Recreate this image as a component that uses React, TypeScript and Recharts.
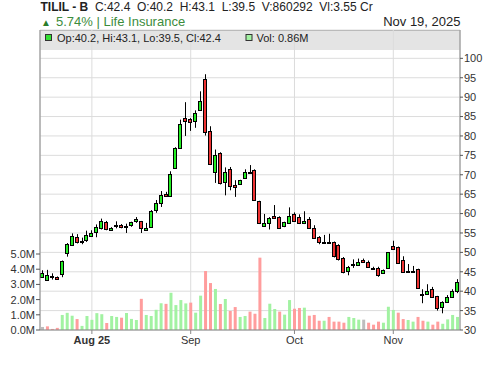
import { ComposedChart, Bar, Cell, XAxis, YAxis, CartesianGrid } from "recharts";

const FONT = "'Liberation Sans', Arial, sans-serif";

// daily OHLC, 85 sessions ending Nov 19, 2025
const opens = [
  43.8, 43.0, 43.7, 43.7, 44.4, 49.7, 51.9, 54.0, 52.9, 53.2,
  54.2, 55.3, 56.2, 57.7, 55.8, 56.9, 57.0, 56.9, 56.8, 58.0,
  58.0, 55.9, 56.4, 60.9, 62.6, 65.0, 64.5, 71.9, 77.0, 84.7,
  84.4, 84.0, 86.8, 94.8, 81.4, 70.7, 75.5, 68.0, 71.4, 67.3,
  67.5, 69.0, 70.7, 71.2, 63.2, 56.9, 57.7, 59.4, 59.2, 56.7,
  57.7, 60.0, 59.0, 57.5, 58.7, 56.4, 54.0, 52.6, 52.7, 52.6,
  51.9, 48.6, 45.3, 46.7, 46.8, 48.0, 47.5, 46.1, 46.1, 44.7,
  45.9, 51.6, 51.3, 48.0, 45.0, 45.1, 45.6, 39.3, 39.4, 40.5,
  38.7, 35.8, 37.2, 38.6, 40.2,
];
const highs = [
  45.4, 45.5, 44.6, 43.8, 47.9, 52.4, 54.9, 54.7, 53.8, 55.6,
  55.7, 57.2, 58.7, 58.1, 56.5, 58.0, 57.3, 57.4, 57.9, 59.1,
  58.1, 57.6, 60.9, 63.5, 65.8, 65.6, 70.9, 77.1, 84.2, 88.7,
  84.6, 86.6, 91.5, 95.9, 82.5, 76.5, 75.8, 71.9, 72.0, 68.6,
  68.7, 71.4, 72.5, 71.4, 63.3, 59.9, 59.1, 62.2, 59.3, 57.9,
  61.6, 60.3, 59.8, 60.6, 59.1, 57.0, 54.2, 54.5, 54.8, 52.8,
  52.1, 48.8, 46.5, 48.2, 48.4, 48.4, 47.9, 46.3, 46.3, 45.6,
  50.1, 53.0, 51.5, 49.0, 47.0, 46.5, 45.8, 40.5, 41.8, 41.1,
  38.8, 37.4, 39.0, 40.5, 43.1,
];
const lows = [
  43.4, 42.9, 43.0, 43.2, 43.6, 48.9, 51.7, 52.3, 52.1, 52.7,
  54.0, 53.9, 55.9, 55.7, 55.6, 56.2, 56.2, 55.0, 56.6, 57.6,
  55.0, 55.8, 56.3, 60.2, 61.7, 64.3, 64.4, 71.8, 76.9, 80.0,
  81.3, 82.1, 86.7, 80.1, 72.5, 67.9, 67.5, 64.7, 66.0, 64.3,
  67.4, 68.9, 70.3, 63.4, 57.3, 56.6, 55.9, 58.8, 56.2, 56.5,
  57.5, 58.1, 57.3, 57.3, 56.2, 53.7, 52.1, 52.4, 52.4, 48.7,
  47.9, 44.6, 44.1, 46.0, 46.5, 47.3, 46.0, 45.8, 43.7, 44.5,
  45.8, 50.8, 47.2, 44.9, 44.9, 45.0, 40.6, 36.9, 39.3, 38.3,
  35.0, 34.3, 37.0, 38.4, 39.5,
];
const closes = [
  44.8, 44.2, 43.8, 43.3, 47.8, 52.1, 54.2, 52.8, 53.0, 54.6,
  55.1, 56.6, 58.0, 55.9, 56.3, 57.0, 56.4, 56.6, 57.7, 58.5,
  56.2, 56.4, 60.6, 62.6, 64.7, 64.5, 70.1, 77.0, 83.2, 84.0,
  83.5, 86.0, 89.1, 81.1, 72.9, 75.2, 67.7, 70.7, 67.1, 66.7,
  68.6, 70.6, 70.5, 63.5, 57.5, 57.6, 58.9, 59.0, 56.4, 57.7,
  59.5, 58.3, 57.5, 58.1, 56.4, 53.9, 52.6, 52.7, 52.6, 48.9,
  48.2, 45.0, 46.3, 46.9, 47.5, 47.5, 46.1, 46.0, 44.4, 45.4,
  50.0, 50.9, 47.3, 45.0, 45.1, 45.2, 40.7, 39.2, 40.1, 38.4,
  35.6, 37.2, 38.6, 40.1, 42.4,
];
// volume in millions
const volumes = [
  0.20, 0.24, 0.07, 0.14, 0.99, 1.13, 0.94, 0.72, 0.27, 0.92,
  0.67, 1.11, 1.04, 0.46, 0.92, 0.86, 0.81, 1.12, 0.73, 0.66,
  2.05, 0.99, 0.92, 1.33, 1.76, 1.72, 2.45, 1.64, 1.97, 1.75,
  1.80, 1.14, 2.26, 3.88, 3.09, 2.70, 1.71, 2.04, 1.25, 1.51,
  0.86, 0.92, 1.21, 1.07, 4.76, 0.79, 1.73, 1.38, 1.21, 1.01,
  1.97, 1.40, 1.45, 1.47, 0.94, 0.99, 0.61, 0.61, 0.86, 0.55,
  0.55, 0.48, 0.86, 0.79, 0.68, 0.68, 0.48, 0.35, 0.55, 0.48,
  1.53, 1.32, 1.14, 0.72, 0.66, 0.55, 0.86, 0.61, 0.55, 0.35,
  0.55, 0.41, 0.70, 0.99, 0.86,
];

const monthTicks = [10, 30, 51, 71];
const monthLabels = ["Aug 25", "Sep", "Oct", "Nov"];
const priceTicks = [30, 35, 40, 45, 50, 55, 60, 65, 70, 75, 80, 85, 90, 95, 100];
const volTicks = [0, 1, 2, 3, 4, 5];

const data = closes.map((c, i) => ({
  i,
  open: opens[i],
  high: highs[i],
  low: lows[i],
  close: c,
  range: [lows[i], highs[i]],
  vol: volumes[i],
}));

const GAP = "\u00a0\u00a0";

function volColor(i: number) {
  if (i === 0 || closes[i] === closes[i - 1]) return "#bdbdbd";
  return closes[i] > closes[i - 1] ? "#a2f2a2" : "#ff9d9d";
}

function Candle(props: any) {
  const { x, y, width, height, payload } = props;
  const { open, close, high, low } = payload;
  const cx = Math.round(x + width / 2) + 0.5;
  const k = height / (high - low);
  const yO = y + (high - open) * k;
  const yC = y + (high - close) * k;
  const top = Math.round(Math.min(yO, yC)) + 0.5;
  const h = Math.max(1, Math.round(Math.abs(yO - yC)));
  const up = close >= open;
  return (
    <g>
      <line x1={cx} x2={cx} y1={y} y2={y + height} stroke="#000" strokeWidth={1} />
      <rect
        x={cx - 2}
        y={top}
        width={3}
        height={h}
        fill={up ? "#22ee22" : "#ee3333"}
        stroke="#000"
        strokeWidth={1}
      />
    </g>
  );
}

function MonthTick(props: any) {
  const { x, y, payload } = props;
  const label = monthLabels[monthTicks.indexOf(payload.value)];
  return (
    <text
      x={x}
      y={y}
      dy="0.71em"
      textAnchor="middle"
      fontSize={11}
      fontFamily={FONT}
      fill="#333"
      fontWeight={label === "Aug 25" ? "bold" : "normal"}
    >
      {label}
    </text>
  );
}

export default function App() {
  const last = closes.length - 1;
  return (
    <div style={{ position: "absolute", left: 0, top: 0, width: 500, height: 366, background: "#fff", fontFamily: FONT }}>
      {/* legend strip sits under the grid */}
      <div
        style={{
          position: "absolute",
          left: 40,
          top: 30,
          width: 420,
          height: 20,
          background: "#e4e4e4",
          borderTop: "1px solid #999",
          boxSizing: "border-box",
        }}
      />
      <div style={{ position: "absolute", left: 0, top: 0 }}>
        <ComposedChart width={500} height={366} data={data} margin={{ top: 30, right: 0, bottom: 0, left: 0 }}>
          <CartesianGrid xAxisId="x" yAxisId="price" stroke="#dcdcdc" strokeWidth={1} />
          <XAxis
            xAxisId="x"
            dataKey="i"
            type="category"
            ticks={monthTicks}
            interval={0}
            height={36}
            tickSize={4}
            tickMargin={2}
            tick={<MonthTick />}
            axisLine={{ stroke: "#888" }}
            tickLine={{ stroke: "#888" }}
          />
          <XAxis xAxisId="v" dataKey="i" type="category" height={0} hide />
          <YAxis
            yAxisId="price"
            orientation="right"
            width={40}
            domain={[30, 107.3]}
            ticks={priceTicks}
            interval={0}
            tickSize={3}
            tickMargin={1}
            tick={{ fontSize: 11, fill: "#333", fontFamily: FONT }}
            axisLine={{ stroke: "#888" }}
            tickLine={{ stroke: "#555" }}
          />
          <YAxis
            yAxisId="vol"
            orientation="left"
            width={40}
            domain={[0, 19.74]}
            ticks={volTicks}
            interval={0}
            tickSize={4}
            tickMargin={1}
            tickFormatter={(v: number) => v.toFixed(1) + "M"}
            tick={{ fontSize: 11, fill: "#333", fontFamily: FONT }}
            axisLine={{ stroke: "#888" }}
            tickLine={{ stroke: "#555" }}
          />
          <Bar xAxisId="v" yAxisId="vol" dataKey="vol" barSize={3} isAnimationActive={false}>
            {data.map((d) => (
              <Cell key={d.i} fill={volColor(d.i)} />
            ))}
          </Bar>
          <Bar xAxisId="x" yAxisId="price" dataKey="range" barSize={4} shape={<Candle />} isAnimationActive={false} />
        </ComposedChart>
      </div>
      <svg width={500} height={366} style={{ position: "absolute", left: 0, top: 0, pointerEvents: "none" }}>
        <text x={40.5} y={11} fontSize={12} fontFamily={FONT} fill="#222">
          <tspan fontWeight="bold">TILIL - B</tspan>
          <tspan>{`${GAP}C:${closes[last]}${GAP}O:${opens[last]}${GAP}H:${highs[last]}${GAP}L:${lows[last]}${GAP}V:860292${GAP}Vl:3.55 Cr`}</tspan>
        </text>
        <text x={41} y={26} fontSize={10} fontFamily={FONT} fill="#2a7d2a">▲</text>
        <text x={56} y={26} fontSize={13} fontFamily={FONT} fill="#3c8c3c">5.74% | Life Insurance</text>
        <text x={460.5} y={26} fontSize={13} fontFamily={FONT} fill="#222" textAnchor="end">Nov 19, 2025</text>
        <rect x={45.5} y={34.5} width={6} height={6} fill="#33e033" stroke="#333" strokeWidth={1} />
        <text x={57} y={42} fontSize={11} fontFamily={FONT} fill="#222">
          {`Op:${opens[last]}, Hi:${highs[last]}, Lo:${lows[last]}, Cl:${closes[last]}`}
        </text>
        <rect x={246} y={34.5} width={6} height={6} fill="#a2f2a2" stroke="#333" strokeWidth={1} />
        <text x={256.5} y={42} fontSize={11} fontFamily={FONT} fill="#222">{`Vol: ${volumes[last]}M`}</text>
      </svg>
    </div>
  );
}
